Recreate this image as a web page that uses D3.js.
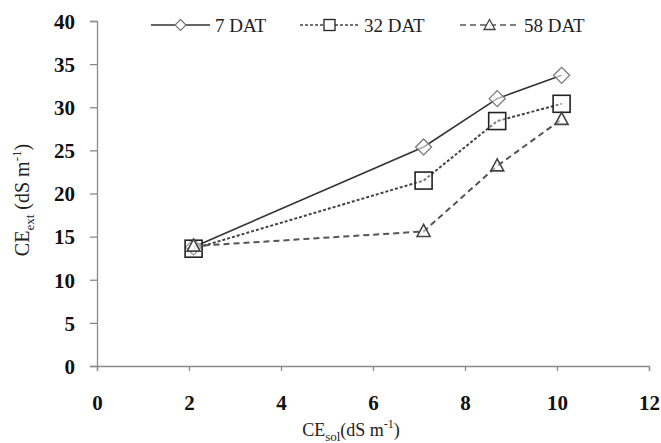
<!DOCTYPE html>
<html><head><meta charset="utf-8">
<script src="https://cdn.jsdelivr.net/npm/d3@7"></script>
<style>body{margin:0;background:#fff}</style>
</head><body>
<svg id="c" width="661" height="443"></svg>
<script>
const xTicks = [0, 2, 4, 6, 8, 10, 12];
const yTicks = [0, 5, 10, 15, 20, 25, 30, 35, 40];
const xVals = [2.1, 7.1, 8.7, 10.1];
const series7 = [13.8, 25.4, 31.0, 33.7];
const series32 = [13.6, 21.5, 28.4, 30.4];
const series58 = [13.9, 15.6, 23.2, 28.6];
const seriesNames = ["7 DAT", "32 DAT", "58 DAT"];

const svg = d3.select("#c");
const x = d3.scaleLinear().domain([0, 12]).range([97, 649]);
const y = d3.scaleLinear().domain([0, 40]).range([366, 21]);
const serif = "'Liberation Serif','DejaVu Serif',serif";
const axisCol = "#8a8a8a";

// axes
const xa = svg.append("g").attr("transform", "translate(0,366)")
  .call(d3.axisBottom(x).tickValues(xTicks).tickSize(5).tickPadding(24).tickFormat(d3.format("d")));
const ya = svg.append("g").attr("transform", "translate(97,0)")
  .call(d3.axisLeft(y).tickValues(yTicks).tickSize(7).tickPadding(15).tickFormat(d3.format("d")));
[xa, ya].forEach(g => {
  g.attr("font-family", serif).attr("font-size", 21).attr("font-weight", "bold");
  g.select(".domain").attr("stroke", axisCol).attr("stroke-width", 1.3);
  g.selectAll(".tick line").attr("stroke", axisCol).attr("stroke-width", 1.3);
  g.selectAll(".tick text").attr("fill", "#111");
});
ya.selectAll(".tick text").attr("dy", "0.35em");

const data = [
  {name: seriesNames[0], vals: series7, dash: null, w: 1.6, col: "#333", marker: "diamond", mcol: "#777"},
  {name: seriesNames[1], vals: series32, dash: "3,2", w: 2, col: "#444", marker: "square", mcol: "#222"},
  {name: seriesNames[2], vals: series58, dash: "6,4", w: 2, col: "#555", marker: "triangle", mcol: "#444"}
];

function drawMarker(g, type, cx, cy, col) {
  if (type === "diamond") {
    g.append("path").attr("d", `M${cx},${cy-8}L${cx+8},${cy}L${cx},${cy+8}L${cx-8},${cy}Z`)
      .attr("fill", "#fff").attr("fill-opacity", 0.6).attr("stroke", col).attr("stroke-width", 1.3);
  } else if (type === "square") {
    g.append("rect").attr("x", cx-8.5).attr("y", cy-8.5).attr("width", 17).attr("height", 17)
      .attr("fill", "#fff").attr("fill-opacity", 0.3).attr("stroke", col).attr("stroke-width", 1.6);
  } else {
    g.append("path").attr("d", `M${cx},${cy-7}L${cx+6.5},${cy+5}L${cx-6.5},${cy+5}Z`)
      .attr("fill", "#fff").attr("fill-opacity", 0.5).attr("stroke", col).attr("stroke-width", 1.6);
  }
}

const line = d3.line().x((d, i) => x(xVals[i])).y(d => y(d));
data.forEach(s => {
  svg.append("path").attr("d", line(s.vals)).attr("fill", "none")
    .attr("stroke", s.col).attr("stroke-width", s.w).attr("stroke-dasharray", s.dash);
});
data.forEach(s => {
  const g = svg.append("g");
  s.vals.forEach((v, i) => drawMarker(g, s.marker, x(xVals[i]), y(v), s.mcol));
});

// legend
const legX = [151, 300, 460];
data.forEach((s, i) => {
  const g = svg.append("g");
  const lx = legX[i], ly = 25;
  g.append("line").attr("x1", lx).attr("x2", lx + 59).attr("y1", ly).attr("y2", ly)
    .attr("stroke", s.col).attr("stroke-width", s.dash ? 1.6 : 1.4).attr("stroke-dasharray", s.dash);
  const cx = lx + 29.5;
  if (s.marker === "diamond") {
    g.append("path").attr("d", `M${cx},${ly-5.5}L${cx+5.5},${ly}L${cx},${ly+5.5}L${cx-5.5},${ly}Z`)
      .attr("fill", "#fff").attr("stroke", s.mcol).attr("stroke-width", 1.2);
  } else if (s.marker === "square") {
    g.append("rect").attr("x", cx-5.5).attr("y", ly-5.5).attr("width", 11).attr("height", 11)
      .attr("fill", "#fff").attr("stroke", s.mcol).attr("stroke-width", 1.3);
  } else {
    g.append("path").attr("d", `M${cx},${ly-5.5}L${cx+5.5},${ly+4.5}L${cx-5.5},${ly+4.5}Z`)
      .attr("fill", "#fff").attr("stroke", s.mcol).attr("stroke-width", 1.3);
  }
  g.append("text").attr("x", lx + 64).attr("y", ly + 7).text(s.name)
    .attr("font-family", serif).attr("font-size", 19).attr("fill", "#222");
});

// axis titles
const yt = svg.append("text").attr("transform", "translate(29,200) rotate(-90)")
  .attr("text-anchor", "middle").attr("font-family", serif).attr("font-size", 20).attr("fill", "#222");
yt.append("tspan").text("CE");
yt.append("tspan").text("ext").attr("dy", 5).attr("font-size", 13);
yt.append("tspan").text(" (dS m").attr("dy", -5);
yt.append("tspan").text("-1").attr("dy", -8).attr("font-size", 13);
yt.append("tspan").text(")").attr("dy", 8);

const xt = svg.append("text").attr("x", 351).attr("y", 436)
  .attr("text-anchor", "middle").attr("font-family", serif).attr("font-size", 18).attr("fill", "#222");
xt.append("tspan").text("CE");
xt.append("tspan").text("sol").attr("dy", 5).attr("font-size", 13);
xt.append("tspan").text("(dS m").attr("dy", -5);
xt.append("tspan").text("-1").attr("dy", -8).attr("font-size", 12);
xt.append("tspan").text(")").attr("dy", 8);
</script>
</body></html>
